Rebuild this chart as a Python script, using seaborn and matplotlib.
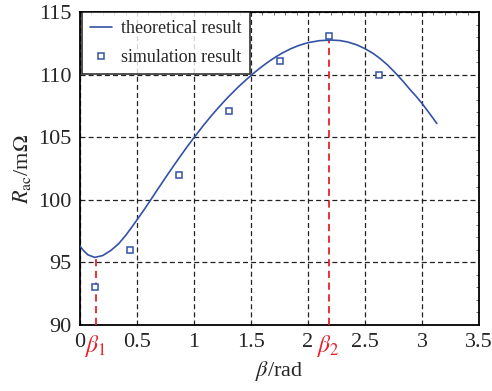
import matplotlib
matplotlib.use("Agg")
import matplotlib.pyplot as plt
import seaborn as sns
import pandas as pd
from matplotlib.ticker import AutoMinorLocator

# theoretical curve
theory_x = [0.00, 0.03, 0.07, 0.13, 0.20, 0.27, 0.34, 0.40, 0.45, 0.50, 0.56, 0.62,
            0.68, 0.75, 0.82, 0.88, 0.94, 1.00, 1.08, 1.15, 1.22, 1.30, 1.39, 1.48,
            1.54, 1.60, 1.66, 1.72, 1.78, 1.85, 1.92, 2.00, 2.10, 2.20, 2.28, 2.35,
            2.43, 2.50, 2.57, 2.63, 2.70, 2.77, 2.84, 2.90, 2.95, 3.00, 3.07, 3.13]
theory_y = [96.3, 95.95, 95.6, 95.4, 95.55, 95.95, 96.5, 97.15, 97.76, 98.4, 99.18, 99.99,
            100.82, 101.77, 102.7, 103.48, 104.24, 104.97, 105.91, 106.69, 107.42, 108.21, 109.03, 109.77,
            110.24, 110.67, 111.07, 111.43, 111.75, 112.07, 112.33, 112.55, 112.71, 112.76, 112.72, 112.6,
            112.37, 112.07, 111.7, 111.3, 110.75, 110.1, 109.4, 108.75, 108.25, 107.7, 106.85, 106.1]

# simulation points
sim_x = [0.13, 0.44, 0.87, 1.31, 1.75, 2.18, 2.62]
sim_y = [93.0, 96.0, 102.0, 107.1, 111.1, 113.1, 110.0]

beta1, beta1_y = 0.137, 95.4
beta2, beta2_y = 2.18, 112.76

xticks = [0, 0.5, 1, 1.5, 2, 2.5, 3, 3.5]
xticklabels = ["0", "0.5", "1", "1.5", "2", "2.5", "3", "3.5"]
yticks = [90, 95, 100, 105, 110, 115]

sns.set_style("white")
plt.rcParams["font.family"] = ["Liberation Serif", "DejaVu Serif"]
plt.rcParams["mathtext.fontset"] = "stix"

fig = plt.figure(figsize=(4.92, 3.91), dpi=100)
ax = fig.add_axes([80/492, 1-325/391, 399/492, 313/391])

blue = "#3352a6"
red = "#e8212b"

df_t = pd.DataFrame({"x": theory_x, "y": theory_y})
df_s = pd.DataFrame({"x": sim_x, "y": sim_y})

sns.lineplot(data=df_t, x="x", y="y", ax=ax, color=blue, linewidth=1.2,
             label="theoretical result", sort=False, zorder=4)
ax.plot(df_s["x"], df_s["y"], linestyle="none", marker="s", markersize=5,
        markerfacecolor="white", markeredgecolor=blue, markeredgewidth=1.1,
        label="simulation result", zorder=5)

ax.vlines([beta1], 90, [beta1_y], colors=red, linestyles=(0, (4, 2.5)), linewidth=1.3, zorder=3)
ax.vlines([beta2], 90, [beta2_y], colors=red, linestyles=(0, (4, 2.5)), linewidth=1.3, zorder=3)

ax.set_xlim(0, 3.5)
ax.set_ylim(90, 115)
ax.set_xticks(xticks)
ax.set_xticklabels(xticklabels)
ax.set_yticks(yticks)
ax.xaxis.set_minor_locator(AutoMinorLocator(5))
ax.yaxis.set_minor_locator(AutoMinorLocator(5))
ax.tick_params(which="major", direction="in", length=0, labelsize=16, pad=6,
               top=True, right=True)
ax.tick_params(which="minor", direction="in", length=2.5, width=0.6, color="#555555",
               top=True, right=True)
ax.grid(True, which="major", color="#222222", linestyle=(0, (4, 2.5)), linewidth=0.9)

for s in ax.spines.values():
    s.set_color("black")
    s.set_linewidth(1.3)

for bx, lab in [(beta1, r"$\beta_1$"), (beta2, r"$\beta_2$")]:
    ax.text(bx, -0.025, lab, transform=ax.get_xaxis_transform(), color=red,
            fontsize=17, ha="center", va="top")

ax.set_xlabel(r"$\beta$/rad", fontsize=16, labelpad=5)
ax.set_ylabel(r"$R_{\rm ac}$/m$\Omega$", fontsize=16, labelpad=4)

leg = ax.legend(loc="upper left", bbox_to_anchor=(0.005, 1.0), borderaxespad=0,
                fontsize=13, frameon=True, fancybox=False, handlelength=1.2,
                handletextpad=0.5, borderpad=0.45, labelspacing=0.65)
leg.get_frame().set_edgecolor("black")
leg.get_frame().set_linewidth(1.2)

fig.savefig("out.png", dpi=100)
